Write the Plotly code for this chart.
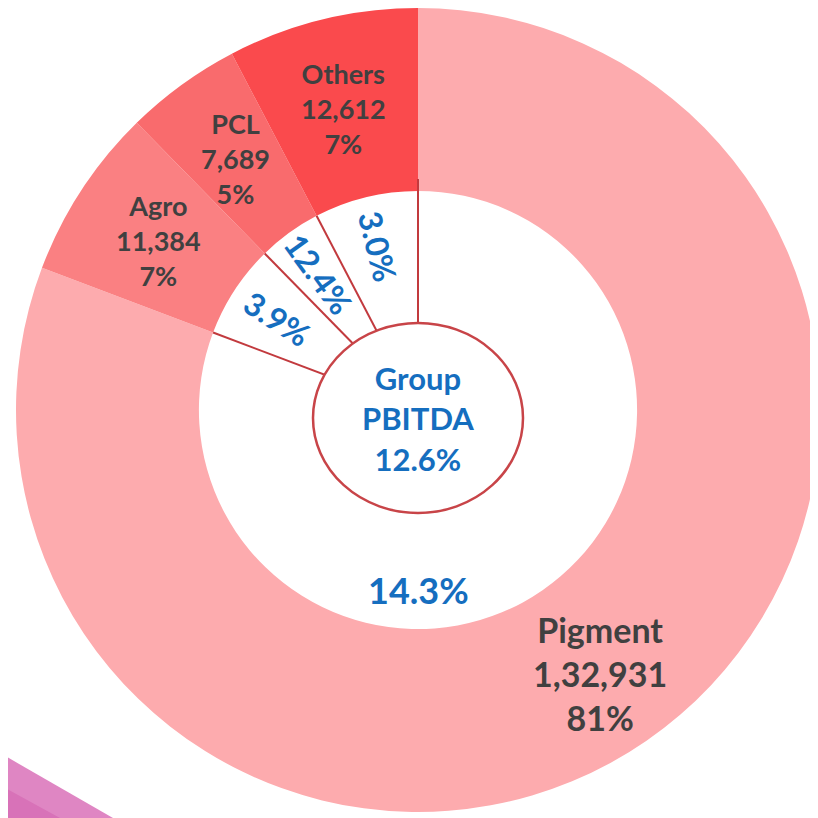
import math
import plotly.graph_objects as go

# ---- data ----
segments = ["Pigment", "Agro", "PCL", "Others"]
revenue = [132931, 11384, 7689, 12612]
revenue_text = ["1,32,931", "11,384", "7,689", "12,612"]
share_text = ["81%", "7%", "5%", "7%"]
margin_text = ["14.3%", "3.9%", "12.4%", "3.0%"]
center_text = ["Group", "PBITDA", "12.6%"]
colors = ["#FDABAE", "#FA8082", "#F96B6D", "#FA4A4D"]

W = H = 818
OFF = 8  # page body margin: screen = figure + OFF
HOLE = 0.545

# target geometry on screen
scx, scy, R = 418, 410, 402
fcx, fcy = scx - OFF, scy - OFF
DOM_X = [(fcx - R) / W, (fcx + R) / W]
DOM_Y = [1 - (fcy + R) / H, 1 - (fcy - R) / H]
DOM_Y = [max(0, DOM_Y[0]), min(1, DOM_Y[1])]
r_in = R * HOLE

def px(xs):
    return (xs - OFF) / W

def py(ys):
    return 1 - (ys - OFF) / H

def polar(angle_cw_deg, r):
    a = math.radians(angle_cw_deg)
    return scx + r * math.sin(a), scy - r * math.cos(a)

total = sum(revenue)
starts, mids = [], []
acc = 0.0
for v in revenue:
    starts.append(acc / total * 360)
    mids.append((acc + v / 2) / total * 360)
    acc += v

fig = go.Figure(go.Pie(
    labels=segments, values=revenue, sort=False, direction="clockwise",
    rotation=0, hole=HOLE, textinfo="none", hoverinfo="label+value",
    marker=dict(colors=colors, line=dict(width=0)),
    domain=dict(x=DOM_X, y=DOM_Y), showlegend=False,
))

shapes = []
line_col = "#C23A3E"
for a in starts:
    x0, y0 = polar(a, 0)
    x1, y1 = polar(a, r_in + (12 if a == 0 else 0))
    shapes.append(dict(type="line", xref="paper", yref="paper",
                       x0=px(x0), y0=py(y0), x1=px(x1), y1=py(y1),
                       line=dict(color=line_col, width=2)))
# centre ellipse
ecx, ecy, erx, ery = scx, scy + 8, 105, 95
shapes.append(dict(type="circle", xref="paper", yref="paper",
                   x0=px(ecx - erx), x1=px(ecx + erx),
                   y0=py(ecy + ery), y1=py(ecy - ery),
                   fillcolor="white", line=dict(color="#C84448", width=2.5)))
# decorative swoosh bottom-left
shapes.append(dict(type="path", xref="paper", yref="paper",
                   path=f"M {px(0)} {py(753)} L {px(113)} {py(818)} L {px(0)} {py(818)} Z",
                   fillcolor="#DF86C3", line=dict(width=0)))
shapes.append(dict(type="path", xref="paper", yref="paper",
                   path=f"M {px(0)} {py(785)} L {px(60)} {py(818)} L {px(0)} {py(818)} Z",
                   fillcolor="#D872B8", line=dict(width=0)))

annotations = []
FONT = "Lato, 'Open Sans', sans-serif"
grey = "#404040"
blue = "#156EBF"
r_lab = (R + r_in) / 2
for i, seg in enumerate(segments):
    x, y = polar(mids[i], r_lab + (10 if seg == "Pigment" else 0))
    size = 34 if seg == "Pigment" else 27
    annotations.append(dict(
        x=px(x), y=py(y), xref="paper", yref="paper", showarrow=False,
        xanchor="center", yanchor="middle",
        text=f"<b>{seg}</b><br><b>{revenue_text[i]}</b><br><b>{share_text[i]}</b>",
        font=dict(family=FONT, size=size, color=grey)))

# segment margins inside the hole
for i, seg in enumerate(segments):
    if seg == "Pigment":
        x, y = polar(180, 180)
        annotations.append(dict(x=px(x), y=py(y), xref="paper", yref="paper",
                                showarrow=False, xanchor="center", yanchor="middle",
                                text=f"<b>{margin_text[i]}</b>",
                                font=dict(family=FONT, size=36, color=blue)))
    else:
        x, y = polar(mids[i], 168)
        ccw = 360 - mids[i]
        annotations.append(dict(x=px(x), y=py(y), xref="paper", yref="paper",
                                showarrow=False, xanchor="center", yanchor="middle",
                                textangle=90 - ccw,
                                text=f"<b>{margin_text[i]}</b>",
                                font=dict(family=FONT, size=32, color=blue)))

annotations.append(dict(x=px(ecx), y=py(ecy), xref="paper", yref="paper",
                        showarrow=False, xanchor="center", yanchor="middle",
                        text="<br>".join(f"<b>{t}</b>" for t in center_text),
                        font=dict(family=FONT, size=31, color=blue)))

fig.update_layout(width=W, height=H, margin=dict(l=0, r=0, t=0, b=0),
                  paper_bgcolor="white", plot_bgcolor="white",
                  shapes=shapes, annotations=annotations)
fig.write_html("out.html")
